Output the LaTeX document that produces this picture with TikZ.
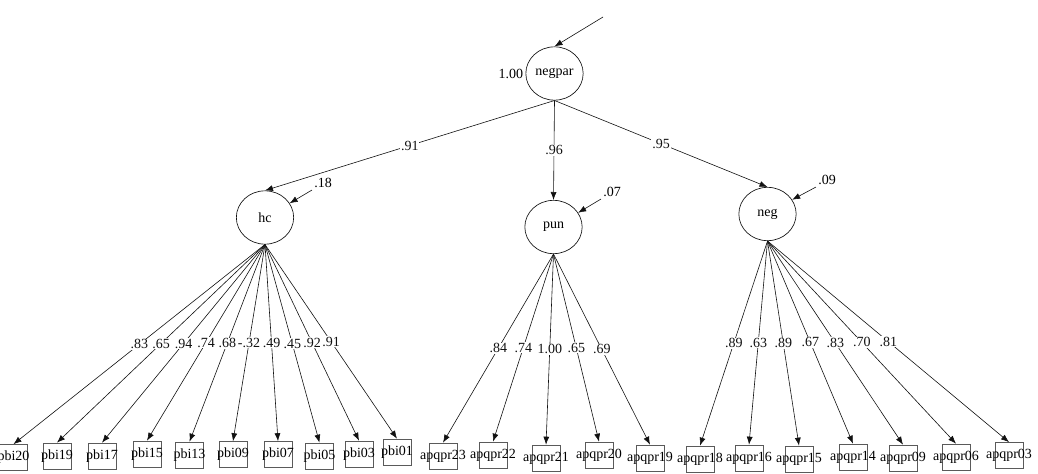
\documentclass[tikz,border=0pt]{standalone}
\usepackage{fontspec}
\setmainfont{Liberation Serif}
\usetikzlibrary{positioning, arrows.meta, shapes.geometric}
\definecolor{ink}{HTML}{111111}
\definecolor{boxgray}{HTML}{5A5A5A}
\tikzset{
  lat/.style={ellipse, draw=ink, line width=0.5pt, minimum width=43pt,
    minimum height=40pt, inner sep=0pt, font=\fontsize{10.5}{12}\selectfont},
  obs/.style={rectangle, draw=boxgray, line width=0.5pt, minimum width=21pt,
    minimum height=19.5pt, inner sep=0pt,
    label={[font=\fontsize{10.5}{12}\selectfont, inner sep=0pt]center:#1}},
  flow/.style={-{Latex[length=6pt, width=4.5pt]}, line width=0.45pt, color=ink},
  num/.style={font=\fontsize{10.5}{12}\selectfont, fill=white, inner sep=0.6pt},
  lbl/.style={font=\fontsize{10.5}{12}\selectfont, inner sep=1.5pt},
}

\begin{document}
\begin{tikzpicture}[x=0.75pt, y=-0.75pt]
  \useasboundingbox (0,0) rectangle (1038,474);
  % latent factors
  \node[lat] (negpar) at (554.5,73.5) {negpar};
  \node[lat] (hc) at (265,217.5) {hc};
  \node[lat] (pun) at (553.5,227) {pun};
  \node[lat] (neg) at (767.5,214) {neg};
  \node[lbl, left=0pt of negpar] (v0) {1.00};
  \node[lbl] (r1) at (323,183) {.18};
  \node[lbl] (r2) at (612,192) {.07};
  \node[lbl] (r3) at (827,180) {.09};
  \coordinate (e0) at (603,17);
  % indicators
  \node[obs=pbi20] (pbi20) at (13.5,457.5) {};
  \node[obs=pbi19] (pbi19) at (57,456) {};
  \node[obs=pbi17] (pbi17) at (102,456) {};
  \node[obs=pbi15] (pbi15) at (147,454) {};
  \node[obs=pbi13] (pbi13) at (189.5,455) {};
  \node[obs=pbi09] (pbi09) at (233,454.5) {};
  \node[obs=pbi07] (pbi07) at (278,454.5) {};
  \node[obs=pbi05] (pbi05) at (319.5,456) {};
  \node[obs=pbi03] (pbi03) at (359,454) {};
  \node[obs=pbi01] (pbi01) at (397,452) {};
  \node[obs=apqpr23] (apqpr23) at (443,456) {};
  \node[obs=apqpr22] (apqpr22) at (493,455) {};
  \node[obs=apqpr21] (apqpr21) at (546,458) {};
  \node[obs=apqpr20] (apqpr20) at (599,455) {};
  \node[obs=apqpr19] (apqpr19) at (650,458) {};
  \node[obs=apqpr18] (apqpr18) at (700,459) {};
  \node[obs=apqpr16] (apqpr16) at (749,458) {};
  \node[obs=apqpr15] (apqpr15) at (799,459) {};
  \node[obs=apqpr14] (apqpr14) at (853,457) {};
  \node[obs=apqpr09] (apqpr09) at (903,458) {};
  \node[obs=apqpr06] (apqpr06) at (956,457) {};
  \node[obs=apqpr03] (apqpr03) at (1009,455.5) {};
  % structural part
  \draw[flow] (e0) -- (negpar.north);
  \draw[flow] (negpar.south) -- node[num]{.91} (hc.north);
  \draw[flow] (negpar.south) -- node[num]{.96} (pun.north);
  \draw[flow] (negpar.south) -- node[num]{.95} (neg.north);
  \draw[flow] (r1.south west) -- (hc.30); \draw[flow] (r2.south west) -- (pun.30); \draw[flow] (r3.south west) -- (neg.30);
  % loadings
  \draw[flow] (hc.south) -- node[num]{.83} (pbi20.north); \draw[flow] (hc.south) -- node[num]{.65} (pbi19.north);
  \draw[flow] (hc.south) -- node[num]{.94} (pbi17.north); \draw[flow] (hc.south) -- node[num]{.74} (pbi15.north);
  \draw[flow] (hc.south) -- node[num]{.68} (pbi13.north); \draw[flow] (hc.south) -- node[num]{-.32} (pbi09.north);
  \draw[flow] (hc.south) -- node[num]{.49} (pbi07.north); \draw[flow] (hc.south) -- node[num]{.45} (pbi05.north);
  \draw[flow] (hc.south) -- node[num]{.92} (pbi03.north); \draw[flow] (hc.south) -- node[num]{.91} (pbi01.north);
  \draw[flow] (pun.south) -- node[num]{.84} (apqpr23.north); \draw[flow] (pun.south) -- node[num]{.74} (apqpr22.north);
  \draw[flow] (pun.south) -- node[num]{1.00} (apqpr21.north); \draw[flow] (pun.south) -- node[num]{.65} (apqpr20.north);
  \draw[flow] (pun.south) -- node[num]{.69} (apqpr19.north);
  \draw[flow] (neg.south) -- node[num]{.89} (apqpr18.north); \draw[flow] (neg.south) -- node[num]{.63} (apqpr16.north);
  \draw[flow] (neg.south) -- node[num]{.89} (apqpr15.north); \draw[flow] (neg.south) -- node[num]{.67} (apqpr14.north);
  \draw[flow] (neg.south) -- node[num]{.83} (apqpr09.north); \draw[flow] (neg.south) -- node[num]{.70} (apqpr06.north);
  \draw[flow] (neg.south) -- node[num]{.81} (apqpr03.north);
\end{tikzpicture}
\end{document}
